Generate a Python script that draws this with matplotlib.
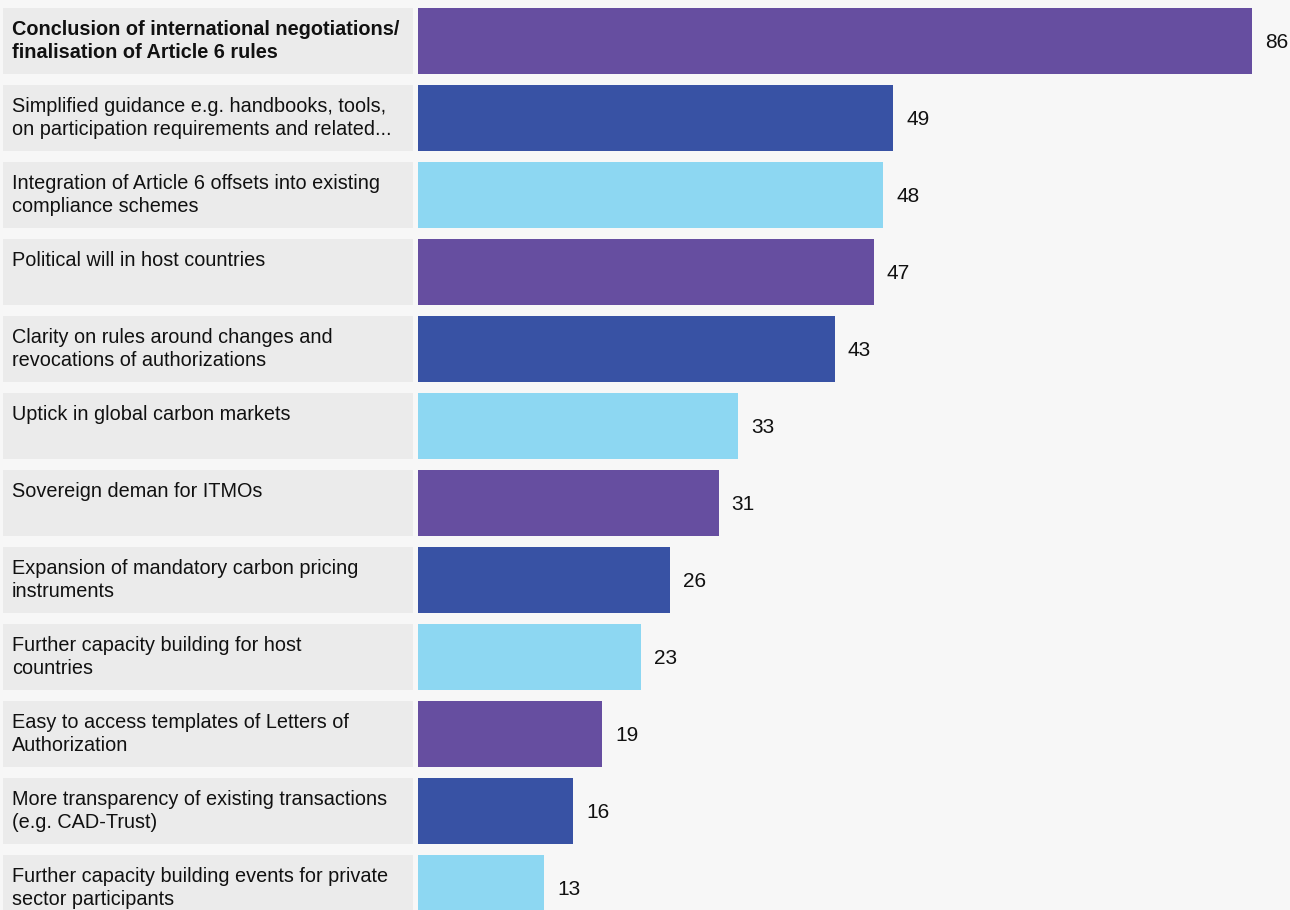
import matplotlib
matplotlib.use("Agg")
import matplotlib.pyplot as plt

# data
labels = [
    "Conclusion of international negotiations/\nfinalisation of Article 6 rules",
    "Simplified guidance e.g. handbooks, tools,\non participation requirements and related...",
    "Integration of Article 6 offsets into existing\ncompliance schemes",
    "Political will in host countries",
    "Clarity on rules around changes and\nrevocations of authorizations",
    "Uptick in global carbon markets",
    "Sovereign deman for ITMOs",
    "Expansion of mandatory carbon pricing\ninstruments",
    "Further capacity building for host\ncountries",
    "Easy to access templates of Letters of\nAuthorization",
    "More transparency of existing transactions\n(e.g. CAD-Trust)",
    "Further capacity building events for private\nsector participants",
]
values = [86, 49, 48, 47, 43, 33, 31, 26, 23, 19, 16, 13]
palette = ["#664ea0", "#3852a4", "#8dd7f2"]

W, H = 1290, 910
pitch = 77.0
bar_h = 66.0 / pitch
top_row = 41.0 / pitch
ylim = ((H - 41.0) / pitch, -top_row)
px_per_unit = (1252 - 418) / 86.0

plt.rcParams["font.family"] = ["Liberation Sans", "DejaVu Sans"]

fig = plt.figure(figsize=(W / 100, H / 100), dpi=100)
fig.patch.set_facecolor("#f7f7f7")

rows = list(range(len(values)))

# label column
axl = fig.add_axes([3 / W, 0, 410 / W, 1])
axl.barh(rows, [1] * len(rows), height=bar_h, color="#ebebeb", left=0)
axl.set_xlim(0, 1)
axl.set_ylim(*ylim)
axl.axis("off")
for i, lab in enumerate(labels):
    axl.text(9 / 410, i - bar_h / 2 + 12 / pitch, lab, va="top", ha="left",
             fontsize=14.3, color="#111111", linespacing=1.25,
             fontweight="bold" if i == 0 else "normal")

# bars
axb = fig.add_axes([418 / W, 0, (W - 418) / W, 1])
axb.barh(rows, values, height=bar_h,
         color=[palette[i % 3] for i in rows])
axb.set_xlim(0, (W - 418) / px_per_unit)
axb.set_ylim(*ylim)
axb.axis("off")
for i, v in enumerate(values):
    axb.text(v + 13 / px_per_unit, i + 1.5 / pitch, str(v), va="center", ha="left",
             fontsize=15, color="#111111")

fig.savefig("out.png", dpi=100, facecolor=fig.get_facecolor())
